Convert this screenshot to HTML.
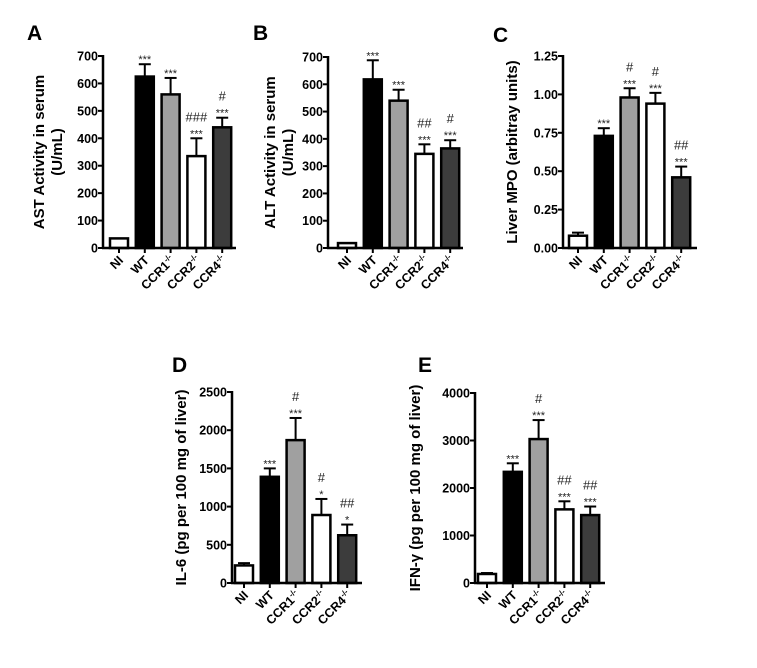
<!DOCTYPE html><html><head><meta charset="utf-8"><style>body{margin:0;background:#fff}svg{display:block}text{font-family:"Liberation Sans",Arial,sans-serif}</style></head><body>
<svg id="s" width="757" height="668" xmlns="http://www.w3.org/2000/svg"></svg>
<script>
var s=document.getElementById('s'),h='';
var fills=['#fff','#000','#a0a0a0','#fff','#3c3c3c'];
var names=['NI','WT','CCR1','CCR2','CCR4'];
function panel(o){
 var ax=o.ax,y0=o.y0,yt=o.yt,max=o.max,sc=(y0-yt)/max;
 function Y(v){return y0-v*sc;}
 h+='<text x="'+o.lx+'" y="'+o.ly+'" font-size="21" font-weight="bold">'+o.letter+'</text>';
 for(var i=0;i<5;i++){
  var x=o.bx+i*25.8,w=18,v=o.v[i],e=o.e[i],c=x+w/2;
  if(e>0){h+='<line x1="'+c+'" y1="'+Y(v)+'" x2="'+c+'" y2="'+Y(v+e)+'" stroke="#000" stroke-width="2"/><line x1="'+(c-6)+'" y1="'+Y(v+e)+'" x2="'+(c+6)+'" y2="'+Y(v+e)+'" stroke="#000" stroke-width="2"/>';}
  h+='<rect x="'+x+'" y="'+Y(v)+'" width="'+w+'" height="'+(y0-Y(v))+'" fill="'+fills[i]+'" stroke="#000" stroke-width="2.5"/>';
  var a=o.a[i]||['',''],ty=Y(v+e)-5;
  if(a[1]){h+='<text x="'+c+'" y="'+(ty+4)+'" font-size="11" text-anchor="middle" fill="#222">'+a[1]+'</text>';ty-=12;}
  if(a[0]){h+='<text x="'+c+'" y="'+ty+'" font-size="13" text-anchor="middle" fill="#222">'+a[0]+'</text>';}
  h+='<line x1="'+c+'" y1="'+y0+'" x2="'+c+'" y2="'+(y0+5)+'" stroke="#000" stroke-width="2"/>';
  var lab=i<2?names[i]:names[i]+'<tspan font-size="8" dy="-5">-/-</tspan>';
  h+='<text transform="translate('+(c+5)+','+(y0+13)+') rotate(-45)" font-size="12.5" font-weight="bold" text-anchor="end">'+lab+'</text>';
 }
 h+='<line x1="'+ax+'" y1="'+(yt-1)+'" x2="'+ax+'" y2="'+(y0+1)+'" stroke="#000" stroke-width="2.5"/>';
 h+='<line x1="'+(ax-1)+'" y1="'+y0+'" x2="'+o.axEnd+'" y2="'+y0+'" stroke="#000" stroke-width="2.5"/>';
 for(var t=0;t<=max+1e-9;t+=o.step){
  var yy=Y(t);
  h+='<line x1="'+(ax-5)+'" y1="'+yy+'" x2="'+ax+'" y2="'+yy+'" stroke="#000" stroke-width="2"/>';
  h+='<text x="'+(ax-5)+'" y="'+(yy+4.5)+'" font-size="12.5" font-weight="bold" text-anchor="end" textLength="'+(o.tw||'')+'">'+(o.fmt?o.fmt(t):t)+'</text>';
 }
 var cy=(y0+yt)/2;
 for(var k=0;k<o.yl.length;k++){
  h+='<text transform="translate('+o.ylx[k]+','+cy+') rotate(-90)" font-size="15" font-weight="bold" text-anchor="middle">'+o.yl[k]+'</text>';
 }
}
try{
panel({letter:'A',lx:27,ly:40,ax:103,y0:248,yt:56,max:700,step:100,bx:110,axEnd:236,
 v:[35,625,560,335,440],e:[0,45,60,65,35],a:[['',''],['','***'],['','***'],['###','***'],['#','***']],
 yl:['AST Activity in serum','(U/mL)'],ylx:[44,62]});
panel({letter:'B',lx:253,ly:40,ax:328,y0:248,yt:57,max:700,step:100,bx:338,axEnd:463,
 v:[18,618,540,345,365],e:[0,70,40,35,30],a:[['',''],['','***'],['','***'],['##','***'],['#','***']],
 yl:['ALT Activity in serum','(U/mL)'],ylx:[275,293]});
panel({letter:'C',lx:493,ly:42,ax:563,y0:248,yt:56,max:1.25,step:0.25,bx:569,axEnd:697,fmt:function(t){return t.toFixed(2)},
 v:[0.08,0.73,0.98,0.94,0.46],e:[0.02,0.05,0.06,0.07,0.07],a:[['',''],['','***'],['#','***'],['#','***'],['##','***']],
 yl:['Liver MPO (arbitray units)'],ylx:[517]});
panel({letter:'D',lx:172,ly:372,ax:232,y0:583,yt:392,max:2500,step:500,bx:235,axEnd:362,
 v:[230,1390,1870,890,625],e:[30,110,290,210,140],a:[['',''],['','***'],['#','***'],['#','*'],['##','*']],
 yl:['IL-6 (pg per 100 mg of liver)'],ylx:[186]});
panel({letter:'E',lx:418,ly:372,ax:475,y0:583,yt:393,max:4000,step:1000,bx:478,axEnd:605,
 v:[190,2340,3030,1550,1430],e:[20,180,400,170,180],a:[['',''],['','***'],['#','***'],['##','***'],['##','***']],
 yl:['IFN-γ (pg per 100 mg of liver)'],ylx:[420]});
}catch(err){}
s.innerHTML=h;
</script>
</body></html>
